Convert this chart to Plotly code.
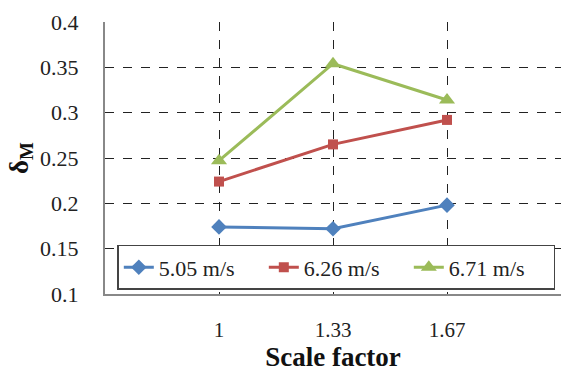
import plotly.graph_objects as go

categories = ["1", "1.33", "1.67"]
v505 = [0.174, 0.172, 0.198]
v626 = [0.224, 0.265, 0.292]
v671 = [0.247, 0.354, 0.314]
series_names = ["5.05 m/s", "6.26 m/s", "6.71 m/s"]
y_ticks = [0.1, 0.15, 0.2, 0.25, 0.3, 0.35, 0.4]
y_ticktext = ["0.1", "0.15", "0.2", "0.25", "0.3", "0.35", "0.4"]

colors = ["#4F81BD", "#C0504D", "#9BBB59"]
symbols = ["diamond", "square", "triangle-up"]
sizes = [12, 10, 14]

fig = go.Figure()
for name, vals, c, s, sz in zip(series_names, [v505, v626, v671], colors, symbols, sizes):
    fig.add_trace(go.Scatter(
        x=categories, y=vals, name=name, mode="lines+markers",
        line=dict(color=c, width=3),
        marker=dict(symbol=s, size=sz, color=c),
    ))

font_family = "'Liberation Serif', 'Times New Roman', serif"
fig.update_layout(
    width=561, height=372,
    margin=dict(l=105, r=0, t=22, b=78),
    paper_bgcolor="white", plot_bgcolor="white",
    font=dict(family=font_family, size=18, color="#222"),
    showlegend=True,
    legend=dict(
        orientation="h", x=0.027, y=0.015, xanchor="left", yanchor="bottom",
        bgcolor="white", bordercolor="#444", borderwidth=1.5,
        font=dict(family=font_family, size=22, color="#222"),
        itemwidth=30, entrywidth=100, tracegroupgap=0,
    ),
    xaxis=dict(
        type="category", range=[-1, 3],
        showgrid=True, gridcolor="#222", griddash="dash", gridwidth=1,
        showline=True, linecolor="#888", linewidth=2,
        ticks="outside", ticklen=16, tickcolor="rgba(0,0,0,0)",
        tickfont=dict(family=font_family, size=21, color="#222"),
        title=dict(text="<b>Scale factor</b>", font=dict(family=font_family, size=27, color="#111"), standoff=6),
        zeroline=False,
    ),
    yaxis=dict(
        range=[0.1, 0.4], tickvals=y_ticks, ticktext=y_ticktext,
        showgrid=True, gridcolor="#222", griddash="dash", gridwidth=1,
        showline=True, linecolor="#888", linewidth=2,
        ticks="outside", ticklen=20, tickcolor="rgba(0,0,0,0)",
        tickfont=dict(family=font_family, size=22, color="#222"),
        title=dict(text="<b>δ<sub>M</sub></b>", font=dict(family=font_family, size=27, color="#111"), standoff=4),
        zeroline=False,
    ),
)

fig.write_html("out.html")
